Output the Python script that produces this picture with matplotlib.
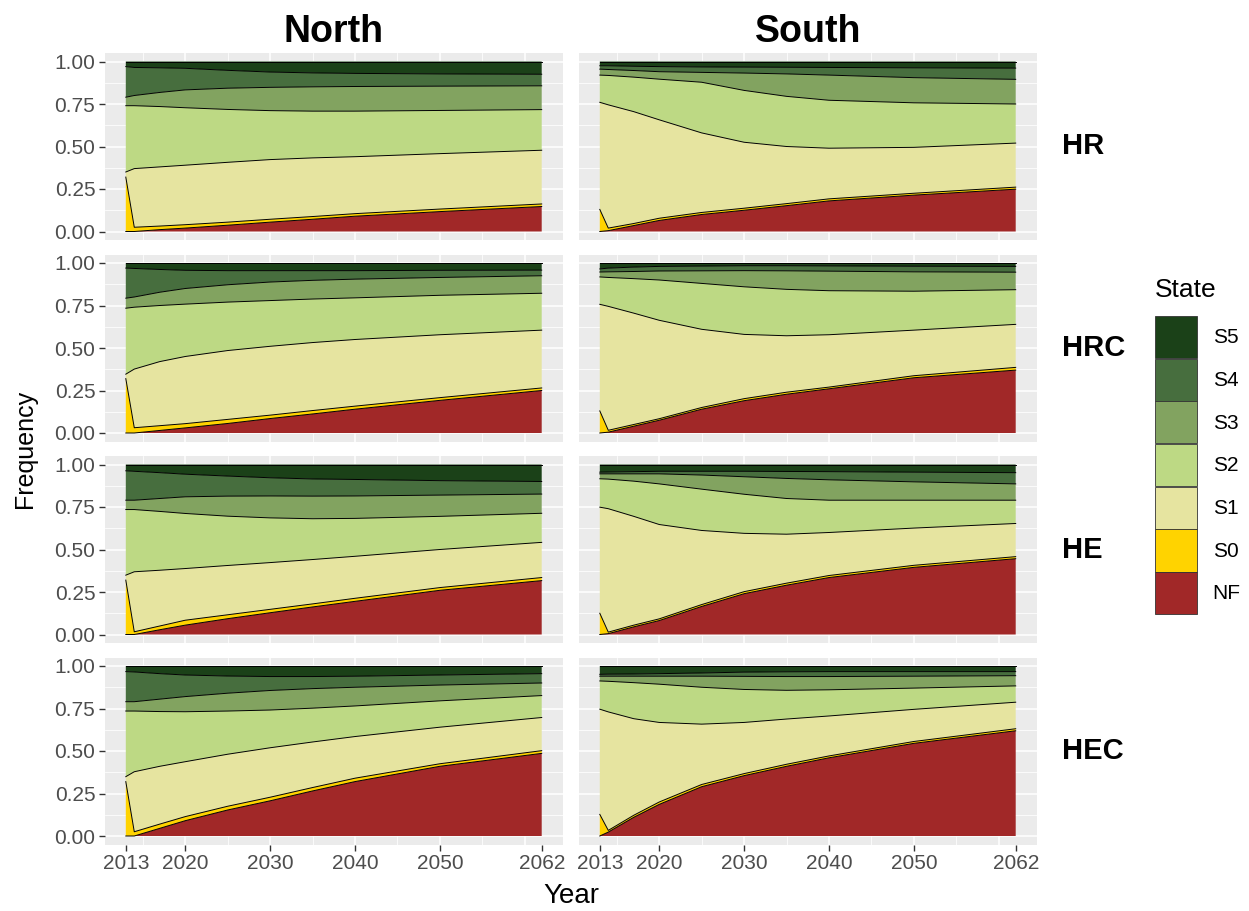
import numpy as np
import matplotlib.pyplot as plt
from matplotlib.patches import Patch

plt.rcParams['font.family'] = ['Liberation Sans', 'DejaVu Sans']

years = [2013, 2014, 2017, 2020, 2025, 2030, 2035, 2040, 2050, 2062]
states = ['NF', 'S0', 'S1', 'S2', 'S3', 'S4', 'S5']
state_colors = ['#A12828', '#FFD300', '#E6E4A0', '#BDD984',
                '#82A360', '#476E3E', '#1B4118']
regions = ['North', 'South']
scenarios = ['HR', 'HRC', 'HE', 'HEC']

# upper edge of the NF, S0, S1, S2, S3 and S4 layers (S5 always tops out at 1)
north_hr = [[0.00, 0.000, 0.011, 0.020, 0.037, 0.055, 0.072, 0.090, 0.117, 0.147],
            [0.32, 0.025, 0.032, 0.040, 0.055, 0.072, 0.088, 0.105, 0.132, 0.162],
            [0.35, 0.370, 0.380, 0.390, 0.407, 0.423, 0.433, 0.440, 0.458, 0.478],
            [0.74, 0.740, 0.735, 0.728, 0.718, 0.711, 0.708, 0.708, 0.712, 0.717],
            [0.79, 0.800, 0.818, 0.833, 0.843, 0.848, 0.851, 0.853, 0.855, 0.857],
            [0.97, 0.965, 0.963, 0.960, 0.948, 0.938, 0.933, 0.930, 0.927, 0.925]]

north_hrc = [[0.000, 0.000, 0.015, 0.030, 0.056, 0.085, 0.112, 0.140, 0.192, 0.250],
             [0.320, 0.031, 0.043, 0.055, 0.080, 0.105, 0.132, 0.158, 0.208, 0.265],
             [0.346, 0.376, 0.420, 0.450, 0.485, 0.510, 0.532, 0.550, 0.578, 0.605],
             [0.734, 0.740, 0.750, 0.758, 0.770, 0.779, 0.788, 0.795, 0.810, 0.822],
             [0.793, 0.800, 0.828, 0.850, 0.872, 0.888, 0.898, 0.905, 0.915, 0.925],
             [0.970, 0.968, 0.962, 0.957, 0.955, 0.955, 0.955, 0.955, 0.957, 0.958]]

north_he = [[0.000, 0.000, 0.028, 0.055, 0.093, 0.128, 0.162, 0.195, 0.260, 0.317],
            [0.320, 0.016, 0.050, 0.084, 0.116, 0.148, 0.180, 0.213, 0.276, 0.335],
            [0.349, 0.369, 0.378, 0.388, 0.406, 0.423, 0.441, 0.460, 0.500, 0.542],
            [0.735, 0.735, 0.724, 0.712, 0.696, 0.686, 0.681, 0.683, 0.695, 0.713],
            [0.790, 0.790, 0.800, 0.810, 0.814, 0.815, 0.814, 0.815, 0.820, 0.826],
            [0.963, 0.960, 0.952, 0.943, 0.932, 0.922, 0.915, 0.912, 0.905, 0.900]]

north_hec = [[0.000, 0.000, 0.045, 0.090, 0.153, 0.207, 0.265, 0.320, 0.410, 0.486],
             [0.320, 0.025, 0.070, 0.114, 0.175, 0.228, 0.285, 0.340, 0.425, 0.502],
             [0.349, 0.378, 0.410, 0.437, 0.481, 0.519, 0.553, 0.585, 0.640, 0.697],
             [0.735, 0.735, 0.732, 0.731, 0.735, 0.741, 0.752, 0.765, 0.795, 0.826],
             [0.790, 0.790, 0.805, 0.820, 0.840, 0.856, 0.867, 0.875, 0.888, 0.900],
             [0.967, 0.965, 0.955, 0.947, 0.941, 0.938, 0.938, 0.940, 0.947, 0.955]]

south_hr = [[0.000, 0.005, 0.035, 0.065, 0.100, 0.125, 0.152, 0.180, 0.214, 0.249],
            [0.130, 0.020, 0.047, 0.078, 0.112, 0.137, 0.164, 0.192, 0.225, 0.261],
            [0.760, 0.745, 0.705, 0.657, 0.580, 0.525, 0.500, 0.490, 0.495, 0.520],
            [0.920, 0.918, 0.908, 0.896, 0.878, 0.830, 0.795, 0.772, 0.757, 0.750],
            [0.955, 0.953, 0.947, 0.940, 0.936, 0.932, 0.927, 0.920, 0.905, 0.895],
            [0.975, 0.975, 0.972, 0.970, 0.968, 0.967, 0.966, 0.965, 0.963, 0.961]]

south_hrc = [[0.000, 0.005, 0.040, 0.075, 0.140, 0.190, 0.228, 0.260, 0.325, 0.370],
             [0.130, 0.016, 0.050, 0.084, 0.150, 0.202, 0.240, 0.270, 0.337, 0.386],
             [0.757, 0.745, 0.705, 0.663, 0.610, 0.580, 0.572, 0.578, 0.605, 0.639],
             [0.918, 0.915, 0.908, 0.900, 0.880, 0.860, 0.845, 0.837, 0.834, 0.843],
             [0.947, 0.948, 0.950, 0.953, 0.954, 0.955, 0.954, 0.952, 0.948, 0.946],
             [0.965, 0.970, 0.976, 0.980, 0.982, 0.984, 0.984, 0.983, 0.981, 0.980]]

south_he = [[0.000, 0.005, 0.045, 0.082, 0.165, 0.240, 0.290, 0.335, 0.395, 0.446],
            [0.125, 0.014, 0.055, 0.092, 0.176, 0.252, 0.302, 0.347, 0.407, 0.458],
            [0.749, 0.740, 0.695, 0.647, 0.612, 0.595, 0.590, 0.600, 0.626, 0.653],
            [0.916, 0.914, 0.902, 0.886, 0.855, 0.825, 0.800, 0.790, 0.790, 0.790],
            [0.945, 0.945, 0.945, 0.945, 0.938, 0.928, 0.918, 0.910, 0.898, 0.886],
            [0.955, 0.956, 0.958, 0.960, 0.960, 0.960, 0.959, 0.958, 0.955, 0.952]]

south_hec = [[0.000, 0.023, 0.110, 0.186, 0.290, 0.355, 0.410, 0.460, 0.545, 0.619],
             [0.127, 0.033, 0.122, 0.200, 0.303, 0.367, 0.422, 0.471, 0.556, 0.631],
             [0.746, 0.730, 0.690, 0.668, 0.658, 0.668, 0.688, 0.706, 0.745, 0.787],
             [0.912, 0.910, 0.902, 0.893, 0.875, 0.862, 0.857, 0.860, 0.870, 0.883],
             [0.940, 0.940, 0.940, 0.940, 0.940, 0.939, 0.938, 0.938, 0.940, 0.943],
             [0.951, 0.952, 0.953, 0.955, 0.959, 0.964, 0.966, 0.967, 0.967, 0.967]]

panel_data = {('HR', 'North'): north_hr, ('HRC', 'North'): north_hrc,
              ('HE', 'North'): north_he, ('HEC', 'North'): north_hec,
              ('HR', 'South'): south_hr, ('HRC', 'South'): south_hrc,
              ('HE', 'South'): south_he, ('HEC', 'South'): south_hec}

year_ticks = [2013, 2020, 2030, 2040, 2050, 2062]
W, H = 1249, 911
fig = plt.figure(figsize=(W / 100, H / 100), dpi=100)

col_left = [105, 579]
col_width = 457.5
row_top = [53, 254.5, 456, 657.5]
row_height = 187

for i, scen in enumerate(scenarios):
    for j, reg in enumerate(regions):
        ax = fig.add_axes([col_left[j] / W, 1 - (row_top[i] + row_height) / H,
                           col_width / W, row_height / H])
        ax.set_facecolor('#EBEBEB')
        for s in ax.spines.values():
            s.set_visible(False)

        # panel grid, ggplot style
        ax.set_yticks([0, 0.25, 0.5, 0.75, 1.0])
        ax.set_yticks([0.125, 0.375, 0.625, 0.875], minor=True)
        ax.set_axisbelow(True)
        ax.grid(axis='y', which='major', color='white', lw=1.1)
        ax.grid(axis='y', which='minor', color='white', lw=0.55)
        for gx in range(2015, 2061, 5):
            ax.axvline(gx, color='white', lw=1.1 if gx % 10 == 0 else 0.55, zorder=0.6)

        tops = np.array(panel_data[(scen, reg)])
        edges = np.vstack([np.zeros(len(years)), tops, np.ones(len(years))])
        shares = np.diff(edges, axis=0)
        ax.stackplot(years, shares, colors=state_colors, lw=0, zorder=2)
        for upper in np.cumsum(shares, axis=0):
            ax.plot(years, upper, color='black', lw=0.7, zorder=3)

        ax.set_xlim(2013 - 2.45, 2062 + 2.45)
        ax.set_ylim(-0.05, 1.05)
        ax.set_xticks(year_ticks)
        ax.set_yticklabels(['0.00', '0.25', '0.50', '0.75', '1.00'])
        ax.tick_params(which='major', length=4, width=1, color='#333333',
                       labelcolor='#4D4D4D', labelsize=15, pad=3)
        ax.tick_params(which='minor', length=0)

        if i < len(scenarios) - 1:
            ax.tick_params(axis='x', bottom=False, labelbottom=False)
        if j > 0:
            ax.tick_params(axis='y', left=False, labelleft=False)

        if i == 0:
            fig.text((col_left[j] + col_width / 2) / W, 1 - 42 / H, reg,
                     ha='center', va='baseline', fontsize=27, fontweight='bold')
        if j == 1:
            fig.text(1062 / W, 1 - (row_top[i] + row_height / 2) / H, scen,
                     ha='left', va='center', fontsize=21, fontweight='bold')

fig.text(25 / W, 1 - 449 / H, 'Frequency', rotation=90, ha='center', va='center',
         fontsize=18)
fig.text(571 / W, 1 - 896 / H, 'Year', ha='center', va='center', fontsize=20)

# legend: title placed separately so the gap to the keys matches ggplot
fig.text(1155 / W, 1 - 290 / H, 'State', ha='left', va='center', fontsize=19)
handles = [Patch(facecolor=c, edgecolor='#333333', lw=0.6, label=s)
           for s, c in zip(states, state_colors)][::-1]
fig.legend(handles=handles, loc='upper left', bbox_to_anchor=(1155 / W, 1 - 316 / H),
           frameon=False, fontsize=15, handlelength=2.0, handleheight=2.73,
           labelspacing=0.03, handletextpad=0.77, borderpad=0, borderaxespad=0)

fig.savefig('out.png', dpi=100)
